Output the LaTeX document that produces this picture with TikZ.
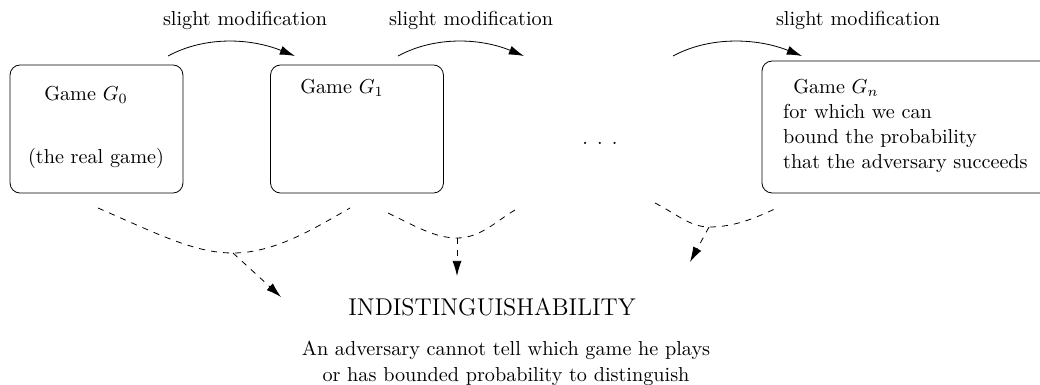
\documentclass[tikz,border=0pt]{standalone}
\usetikzlibrary{arrows.meta}
\begin{document}
\begin{tikzpicture}[x=0.495pt, y=-0.495pt,
	gamebox/.style={draw, rounded corners=5pt, minimum width=85.6pt, minimum height=63.4pt},
	modarrow/.style={-{Latex[length=7.5pt,width=4.5pt]}},
	reduction/.style={dashed, -{Latex[length=7.5pt,width=4.5pt]}}
	]
	\useasboundingbox (0,0) rectangle (1040,385);
	% the games
	\node [gamebox] (game0) at (96.5,129) {};
	\node [gamebox] (game1) at (357,129) {};
	\node [gamebox, minimum width=143.6pt, minimum height=65.3pt] (gamen) at (907,127) {};
	\node (game0-title) at (86,95) {Game $G_0$};
	\node (game0-note) at (96,158) {(the real game)};
	\node (game1-title) at (342,88) {Game $G_1$};
	\node [anchor=west, align=left] (gamen-text) at (776,126)
	{\hspace{5pt}Game $G_n$\\[0.5pt] for which we can\\[0.5pt] bound the probability\\[0.5pt] that the adversary succeeds};
	\node (dots) at (600,143) {.\hspace{4.5pt}.\hspace{4.5pt}.};
	% modifications
	\node (mod1) at (245,20) {slight modification};
	\node (mod2) at (471,20) {slight modification};
	\node (mod3) at (858,20) {slight modification};
	\coordinate (m1a) at (168,56); \coordinate (m1b) at (295,56);
	\coordinate (m2a) at (398,56); \coordinate (m2b) at (524,56);
	\coordinate (m3a) at (673,56); \coordinate (m3b) at (802,56);
	\draw [modarrow] (m1a) .. controls (205,36) and (250,38) .. (m1b);
	\draw [modarrow] (m2a) .. controls (435,36) and (480,38) .. (m2b);
	\draw [modarrow] (m3a) .. controls (710,36) and (757,38) .. (m3b);
	% indistinguishability
	\node [font=\large] (indist) at (492,307.5) {INDISTINGUISHABILITY};
	\node [align=center] (adversary) at (506,363)
	{An adversary cannot tell which game he plays\\[1pt] or has bounded probability to distinguish};
	\coordinate (j1) at (233,253); \coordinate (t1) at (281,297);
	\coordinate (j2) at (457,238); \coordinate (t2) at (457,276);
	\coordinate (j3) at (709,227); \coordinate (t3) at (690,262);
	\draw [dashed] (98,208) .. controls (160,235) and (195,253) .. (j1)
	.. controls (275,253) and (315,228) .. (350,208);
	\draw [dashed] (388,213) .. controls (415,226) and (435,238) .. (j2)
	.. controls (480,238) and (495,222) .. (515,210);
	\draw [dashed] (655,203) .. controls (675,213) and (690,227) .. (j3)
	.. controls (735,227) and (755,218) .. (777,208);
	\draw [reduction] (j1) -- (t1);
	\draw [reduction] (j2) -- (t2);
	\draw [reduction] (j3) -- (t3);
\end{tikzpicture}
\end{document}
